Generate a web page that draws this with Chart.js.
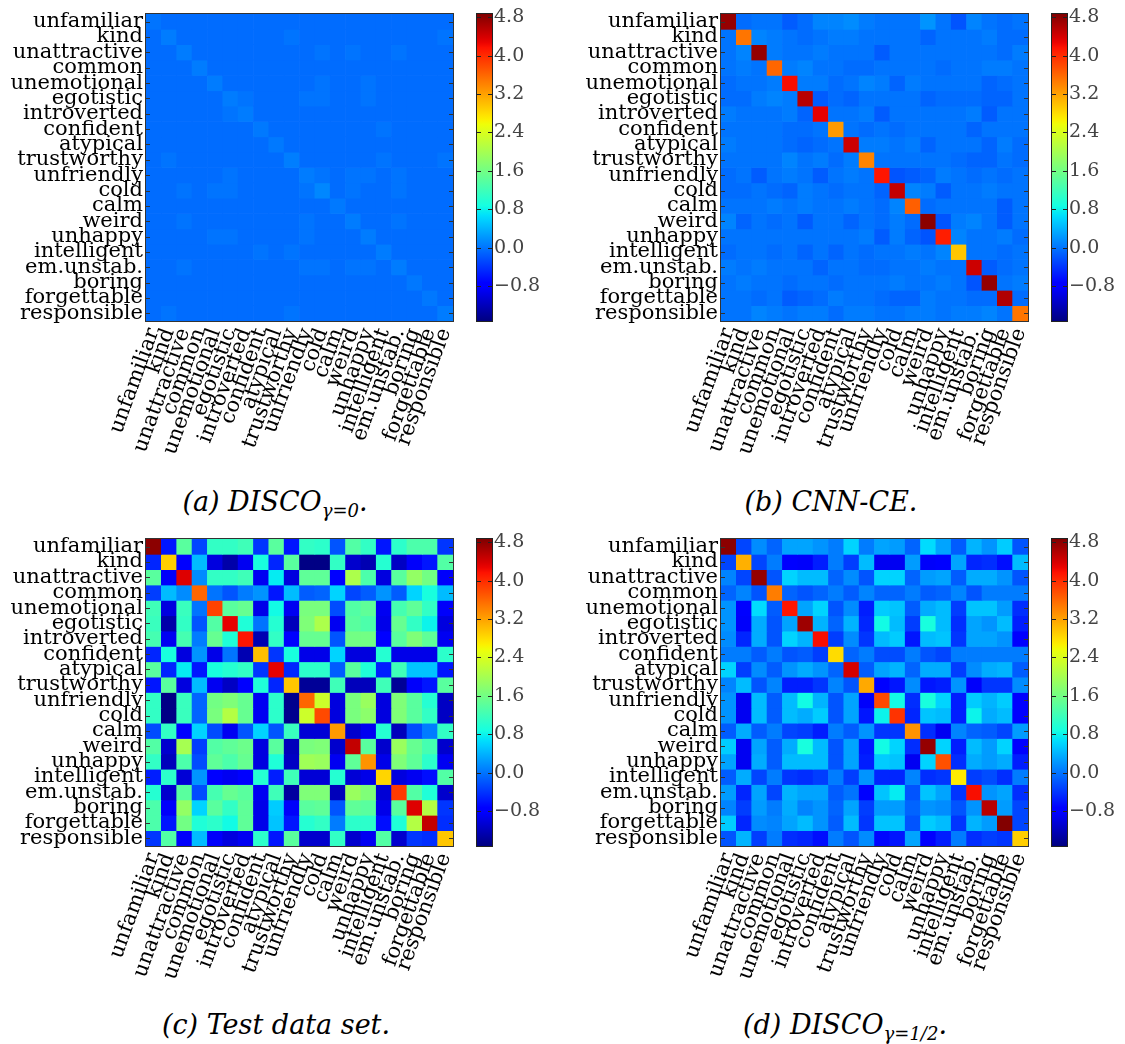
<!DOCTYPE html>
<html>
<head>
<meta charset="utf-8">
<title>Attribute correlation matrices</title>
<script src="https://cdn.jsdelivr.net/npm/chart.js@4.4.0/dist/chart.umd.min.js"></script>
<style>
    html, body { margin: 0; padding: 0; background: #fff; }
    body { width: 1125px; height: 1044px; position: relative; overflow: hidden; }
    canvas { position: absolute; }
    .cap {
        position: absolute;
        width: 400px;
        text-align: center;
        font-family: "DejaVu Serif", serif;
        font-style: italic;
        font-size: 27px;
        line-height: 27px;
        color: #000;
        white-space: nowrap;
    }
    .cap sub { font-size: 18px; line-height: 0; vertical-align: -6px; }
</style>
</head>
<body>
<canvas id="heatA" width="463" height="481" style="left:0px;top:0px"></canvas>
<canvas id="barA" width="70" height="340" style="left:470px;top:0px"></canvas>
<canvas id="heatB" width="463" height="481" style="left:575px;top:0px"></canvas>
<canvas id="barB" width="70" height="340" style="left:1045px;top:0px"></canvas>
<canvas id="heatC" width="463" height="481" style="left:0px;top:525px"></canvas>
<canvas id="barC" width="70" height="340" style="left:470px;top:525px"></canvas>
<canvas id="heatD" width="463" height="481" style="left:575px;top:525px"></canvas>
<canvas id="barD" width="70" height="340" style="left:1045px;top:525px"></canvas>

<div class="cap" style="left:75px;top:488px">(a) DISCO<sub>γ=0</sub>.</div>
<div class="cap" style="left:631px;top:488px">(b) CNN-CE.</div>
<div class="cap" style="left:76px;top:1011px">(c) Test data set.</div>
<div class="cap" style="left:645px;top:1011px">(d) DISCO<sub>γ=1/2</sub>.</div>

<script>
// Attribute names, used for both axes (rows top to bottom, columns left to right)
const attributes = [
    'unfamiliar', 'kind', 'unattractive', 'common', 'unemotional',
    'egotistic', 'introverted', 'confident', 'atypical', 'trustworthy',
    'unfriendly', 'cold', 'calm', 'weird', 'unhappy',
    'intelligent', 'em.unstab.', 'boring', 'forgettable', 'responsible'
];

// Colour bar range and tick labels
const colorMin = -1.53;
const colorMax = 4.87;
const colorTicks = [-0.8, 0.0, 0.8, 1.6, 2.4, 3.2, 4.0, 4.8];

// (a) DISCO gamma=0
const discoGamma0 = [
    [0.00, -0.05, -0.05, -0.05, -0.05, -0.05, -0.05, -0.05, -0.05, -0.05, -0.05, -0.05, -0.05, -0.05, -0.05, -0.05, -0.05, -0.05, -0.05, -0.05],
    [-0.05, 0.05, -0.05, -0.05, -0.05, -0.05, -0.05, -0.05, -0.05, 0.00, -0.05, -0.05, -0.05, -0.05, -0.05, -0.05, -0.05, -0.05, -0.05, 0.00],
    [-0.05, -0.05, 0.05, -0.05, -0.05, -0.05, -0.05, -0.05, -0.05, -0.05, -0.05, 0.00, -0.05, 0.00, -0.05, -0.05, 0.00, -0.05, -0.05, -0.05],
    [-0.05, -0.05, -0.05, 0.05, -0.05, -0.05, -0.05, -0.05, -0.05, -0.05, -0.05, -0.05, -0.05, -0.05, -0.05, -0.05, -0.05, -0.05, -0.05, -0.05],
    [-0.05, -0.05, -0.05, -0.05, 0.05, -0.05, -0.05, -0.05, -0.05, -0.05, -0.05, 0.00, -0.05, -0.05, 0.00, -0.05, -0.05, -0.05, -0.05, -0.05],
    [-0.05, -0.05, -0.05, -0.05, -0.05, 0.05, 0.00, -0.05, -0.05, -0.05, 0.00, 0.00, -0.05, -0.05, 0.00, -0.05, -0.05, -0.05, -0.05, -0.05],
    [-0.05, -0.05, -0.05, -0.05, -0.05, 0.00, 0.05, -0.05, -0.05, -0.05, -0.05, -0.05, -0.05, -0.05, -0.05, -0.05, -0.05, -0.05, -0.05, -0.05],
    [-0.05, -0.05, -0.05, -0.05, -0.05, -0.05, -0.05, 0.03, -0.05, -0.05, -0.05, -0.05, -0.05, -0.05, -0.05, 0.00, -0.05, -0.05, -0.05, -0.05],
    [-0.05, -0.05, -0.05, -0.05, -0.05, -0.05, -0.05, -0.05, 0.03, -0.05, -0.05, -0.05, -0.05, -0.05, -0.05, -0.05, -0.05, -0.05, -0.05, -0.05],
    [-0.05, 0.00, -0.05, -0.05, -0.05, -0.05, -0.05, -0.05, -0.05, 0.06, -0.05, -0.05, -0.05, -0.05, -0.05, 0.00, -0.05, -0.05, -0.05, 0.00],
    [-0.05, -0.05, -0.05, -0.05, -0.05, 0.00, -0.05, -0.05, -0.05, -0.05, 0.05, 0.00, -0.05, 0.00, 0.00, -0.05, 0.00, -0.05, -0.05, -0.05],
    [-0.05, -0.05, 0.00, -0.05, 0.00, 0.00, -0.05, -0.05, -0.05, -0.05, 0.00, 0.12, -0.05, 0.00, -0.05, -0.05, 0.00, -0.05, -0.05, -0.05],
    [-0.05, -0.05, -0.05, -0.05, -0.05, -0.05, -0.05, -0.05, -0.05, -0.05, -0.05, -0.05, 0.03, -0.05, -0.05, -0.05, -0.05, -0.05, -0.05, -0.05],
    [-0.05, -0.05, 0.00, -0.05, -0.05, -0.05, -0.05, -0.05, -0.05, -0.05, 0.00, -0.05, -0.05, 0.05, -0.05, -0.05, 0.00, -0.05, -0.05, -0.05],
    [-0.05, -0.05, -0.05, -0.05, 0.00, 0.00, -0.05, -0.05, -0.05, -0.05, 0.00, -0.05, -0.05, -0.05, 0.05, -0.05, -0.05, -0.05, -0.05, -0.05],
    [-0.05, -0.05, -0.05, -0.05, -0.05, -0.05, -0.05, 0.00, -0.05, 0.00, -0.05, -0.05, -0.05, -0.05, -0.05, 0.05, -0.05, -0.05, -0.05, -0.05],
    [-0.05, -0.05, 0.00, -0.05, -0.05, -0.05, -0.05, -0.05, -0.05, -0.05, 0.00, 0.00, -0.05, 0.00, 0.00, -0.05, 0.05, -0.05, -0.05, -0.05],
    [-0.05, -0.05, -0.05, -0.05, -0.05, -0.05, -0.05, -0.05, -0.05, -0.05, -0.05, -0.05, -0.05, -0.05, -0.05, -0.05, -0.05, 0.02, -0.05, -0.05],
    [-0.05, -0.05, -0.05, -0.05, -0.05, -0.05, -0.05, -0.05, -0.05, -0.05, -0.05, -0.05, -0.05, -0.05, -0.05, -0.05, -0.05, -0.05, 0.02, -0.05],
    [-0.05, 0.00, -0.05, -0.05, -0.05, -0.05, -0.05, -0.05, -0.05, 0.00, -0.05, -0.05, -0.05, -0.05, -0.05, -0.05, -0.05, -0.05, -0.05, 0.05]
];

// (b) CNN-CE
const cnnCE = [
    [4.75, -0.05, 0.0, 0.0, -0.15, -0.05, 0.1, 0.1, 0.15, 0.05, 0.0, 0.0, 0.0, 0.2, 0.0, -0.2, 0.1, 0.0, -0.05, 0.0],
    [0.0, 3.5, 0.1, 0.05, 0.0, -0.05, 0.0, 0.05, 0.05, 0.0, 0.0, 0.0, 0.0, -0.1, 0.0, 0.0, 0.0, 0.05, -0.05, -0.05],
    [0.0, 0.1, 4.75, 0.05, 0.0, 0.0, 0.05, 0.0, 0.0, 0.0, -0.15, 0.0, 0.0, 0.0, 0.0, 0.0, 0.0, 0.0, -0.05, 0.05],
    [0.0, 0.05, 0.0, 3.6, 0.05, 0.1, 0.0, 0.0, -0.05, -0.05, 0.0, 0.0, 0.0, 0.0, -0.05, 0.0, 0.0, 0.05, 0.05, 0.0],
    [-0.05, 0.0, 0.0, 0.05, 4.2, 0.05, 0.05, -0.05, 0.0, 0.1, 0.05, -0.1, 0.05, 0.0, 0.0, 0.0, 0.0, -0.1, -0.05, 0.0],
    [-0.05, -0.05, 0.05, 0.1, 0.05, 4.55, -0.15, -0.05, -0.1, 0.0, 0.0, 0.0, 0.0, -0.1, -0.05, -0.05, -0.05, -0.1, -0.1, 0.0],
    [0.05, 0.0, 0.0, 0.0, 0.05, -0.1, 4.3, 0.0, 0.0, 0.05, -0.15, 0.0, 0.0, 0.0, 0.0, 0.0, 0.05, -0.15, 0.0, 0.0],
    [0.0, 0.0, 0.0, 0.0, -0.05, -0.05, 0.0, 3.25, 0.0, -0.05, 0.0, -0.05, 0.0, 0.0, 0.0, 0.0, -0.1, 0.0, 0.0, 0.0],
    [0.05, 0.0, 0.0, 0.0, -0.05, -0.1, -0.05, 0.0, 4.45, 0.05, 0.05, 0.0, 0.05, -0.1, 0.0, 0.0, 0.0, -0.1, 0.05, -0.05],
    [0.0, 0.0, 0.0, 0.0, 0.1, 0.0, 0.05, -0.05, 0.05, 3.4, 0.0, 0.0, 0.0, 0.0, 0.0, -0.05, -0.1, -0.1, 0.0, -0.05],
    [-0.05, 0.0, -0.15, 0.0, 0.05, 0.0, -0.15, 0.0, 0.05, 0.0, 4.15, -0.2, -0.15, -0.1, 0.05, 0.0, -0.05, 0.0, -0.05, 0.0],
    [-0.05, -0.05, 0.0, -0.05, -0.1, 0.05, 0.0, -0.05, 0.0, 0.0, -0.1, 4.5, 0.1, 0.05, -0.15, 0.0, 0.0, 0.05, 0.0, 0.0],
    [0.0, 0.0, 0.0, 0.05, 0.0, 0.05, 0.0, 0.0, 0.05, 0.0, -0.05, 0.1, 3.65, -0.05, 0.0, 0.0, 0.0, 0.0, -0.15, 0.0],
    [0.1, -0.1, 0.0, -0.05, 0.0, -0.15, 0.0, 0.0, -0.1, 0.0, -0.05, 0.05, -0.05, 4.8, -0.2, 0.05, 0.1, 0.0, -0.15, 0.0],
    [0.0, 0.0, 0.0, 0.0, 0.0, 0.0, 0.0, 0.0, 0.0, 0.05, -0.15, 0.05, -0.1, -0.2, 4.1, 0.1, 0.0, 0.0, 0.05, -0.05],
    [-0.05, 0.0, 0.0, -0.05, 0.0, -0.1, 0.0, -0.1, 0.0, -0.05, 0.0, 0.0, 0.05, 0.0, 0.1, 2.95, 0.0, 0.0, -0.05, 0.0],
    [0.05, 0.0, 0.05, 0.0, 0.0, 0.0, -0.1, 0.0, 0.0, -0.05, -0.05, 0.0, 0.0, 0.05, 0.0, 0.0, 4.45, -0.15, -0.05, 0.0],
    [0.0, 0.05, 0.0, 0.0, -0.05, 0.0, 0.0, -0.05, 0.0, 0.0, 0.0, 0.05, 0.0, 0.0, 0.05, 0.0, -0.2, 4.75, 0.0, 0.05],
    [0.0, 0.0, -0.05, 0.0, -0.15, -0.1, -0.05, 0.05, 0.0, 0.0, -0.05, -0.1, -0.1, 0.05, 0.0, 0.0, -0.05, -0.05, 4.6, -0.05],
    [0.0, 0.0, 0.1, 0.05, 0.0, 0.05, 0.05, -0.05, 0.05, 0.05, 0.0, 0.0, 0.05, 0.05, 0.0, 0.05, 0.05, 0.1, 0.0, 3.5]
];

// (c) Test data set
const testData = [
    [4.8, -0.6, 1.4, -0.3, 1.1, 1.1, 1.2, -0.4, 1.4, -0.6, 1.1, 1.05, -0.2, 1.35, 1.1, -0.6, 1.05, 1.3, 1.3, -0.4],
    [-0.5, 2.9, -0.8, 0.45, -1.0, -1.3, -0.9, 0.9, -0.5, 1.4, -1.5, -1.5, 1.1, -1.1, -1.25, 1.0, -1.15, -0.85, -0.6, 1.35],
    [1.4, -0.85, 4.35, 0.15, 1.1, 1.1, 1.2, -0.9, 0.75, -1.0, 1.45, 1.45, -0.8, 2.05, 1.3, -1.0, 1.4, 1.85, 1.6, -0.85],
    [-0.35, 0.45, 0.15, 3.6, 0.0, -0.2, 0.05, 0.2, -0.6, 0.45, -0.15, -0.1, 0.6, -0.3, -0.15, 0.2, -0.15, 0.6, 0.9, 0.45],
    [1.2, -1.0, 1.15, 0.0, 3.85, 1.4, 1.5, -0.95, 0.85, -0.9, 1.65, 1.65, -0.25, 1.35, 1.45, -0.9, 1.25, 1.45, 1.1, -0.85],
    [1.15, -1.3, 1.1, -0.2, 1.35, 4.3, 0.95, 0.0, 1.0, -1.2, 1.7, 2.05, -0.9, 1.4, 1.3, -0.95, 1.5, 1.1, 0.8, -1.0],
    [1.25, -0.9, 1.25, 0.05, 1.5, 0.95, 4.15, -1.25, 1.1, -0.8, 1.5, 1.5, -0.2, 1.6, 1.6, -0.8, 1.4, 1.7, 1.45, -0.9],
    [-0.5, 0.9, -1.0, 0.2, -0.95, 0.0, -1.25, 3.0, -0.4, 0.9, -0.95, -0.95, 0.6, -1.0, -1.0, 1.0, -0.95, -0.95, -0.95, 1.05],
    [1.4, -0.5, 0.75, -0.6, 0.9, 1.0, 1.1, -0.4, 4.3, -0.5, 1.05, 1.05, -0.15, 1.4, 0.95, -0.55, 1.2, 0.5, 0.5, -0.6],
    [-0.6, 1.4, -1.0, 0.45, -0.9, -1.15, -0.8, 0.95, -0.5, 2.95, -1.4, -1.4, 1.2, -1.2, -1.2, 1.2, -1.4, -0.85, -0.6, 1.4],
    [1.1, -1.5, 1.15, -0.1, 1.6, 1.7, 1.5, -0.9, 1.05, -1.45, 3.6, 2.3, -1.0, 1.65, 1.9, -1.0, 1.7, 1.4, 1.0, -1.15],
    [1.1, -1.5, 1.15, -0.1, 1.65, 2.1, 1.5, -0.9, 1.05, -1.45, 2.3, 3.8, -1.0, 1.65, 1.8, -1.0, 1.7, 1.4, 1.1, -1.15],
    [-0.25, 1.1, -0.8, 0.6, -0.25, -0.9, -0.2, 0.6, -0.2, 1.15, -1.05, -1.05, 3.25, -1.1, -0.9, 1.0, -1.2, -0.25, 0.05, 1.1],
    [1.35, -1.1, 2.0, -0.35, 1.35, 1.45, 1.55, -1.0, 1.4, -1.2, 1.65, 1.7, -1.1, 4.5, 1.4, -1.1, 1.9, 1.5, 1.25, -1.1],
    [1.1, -1.2, 1.3, -0.25, 1.45, 1.3, 1.5, -1.0, 0.95, -1.15, 1.95, 1.9, -0.9, 1.45, 3.3, -0.95, 1.7, 1.45, 1.05, -0.9],
    [-0.55, 1.05, -1.05, 0.2, -0.8, -0.9, -0.75, 1.0, -0.55, 1.2, -1.05, -1.05, 1.0, -1.05, -0.95, 2.85, -1.0, -0.9, -0.65, 1.35],
    [1.0, -1.1, 1.4, -0.25, 1.25, 1.5, 1.4, -0.9, 1.2, -1.35, 1.7, 1.7, -1.2, 1.9, 1.7, -1.05, 3.9, 1.35, 0.95, -1.1],
    [1.3, -0.85, 1.85, 0.6, 1.4, 1.1, 1.45, -0.95, 0.55, -0.85, 1.4, 1.45, -0.2, 1.45, 1.4, -0.95, 1.4, 4.35, 2.1, -0.4],
    [1.3, -0.6, 1.6, 0.95, 1.05, 0.85, 1.45, -0.95, 0.5, -0.6, 1.0, 1.1, 0.05, 1.05, 1.05, -0.65, 0.95, 2.1, 4.5, -0.45],
    [-0.4, 1.35, -0.85, 0.45, -0.85, -1.0, -0.9, 1.05, -0.6, 1.4, -1.1, -1.1, 1.1, -1.1, -0.9, 1.35, -1.1, -0.4, -0.45, 2.95]
];

// (d) DISCO gamma=1/2
const discoGammaHalf = [
    [4.8, -0.3, 0.15, -0.1, 0.3, 0.3, 0.2, 0.05, 0.6, 0.05, 0.3, 0.25, -0.1, 0.65, 0.3, -0.15, 0.4, 0.2, 0.55, -0.2],
    [-0.3, 3.1, -0.3, 0.05, -0.8, -0.85, -0.55, 0.05, -0.35, 0.45, -0.9, -0.9, 0.25, -0.85, -0.8, 0.3, -0.5, -0.45, -0.65, 0.45],
    [0.1, -0.3, 4.75, -0.2, 0.6, 0.45, 0.45, -0.1, 0.15, -0.2, 0.6, 0.6, -0.1, 0.25, 0.3, -0.15, 0.35, 0.35, 0.2, -0.2],
    [-0.1, 0.1, -0.2, 3.45, -0.1, -0.2, -0.1, 0.05, -0.15, 0.1, -0.1, -0.1, 0.05, -0.15, -0.1, 0.1, -0.2, 0.05, 0.05, 0.05],
    [0.2, -0.8, 0.65, -0.15, 4.15, 0.3, 0.6, -0.2, 0.15, -0.55, 0.55, 0.5, -0.15, 0.35, 0.45, -0.35, 0.5, 0.5, 0.25, -0.45],
    [0.2, -0.85, 0.35, -0.2, 0.3, 4.7, 0.4, -0.1, 0.4, -0.5, 0.85, 0.45, -0.35, 0.9, 0.45, -0.45, 0.3, 0.2, 0.45, -0.55],
    [0.15, -0.5, 0.35, -0.2, 0.6, 0.4, 4.2, -0.35, 0.15, -0.4, 0.45, 0.55, -0.6, 0.45, 0.5, -0.4, 0.3, 0.3, 0.2, -0.75],
    [0.05, 0.05, -0.15, 0.05, -0.2, -0.15, -0.35, 2.8, -0.1, 0.05, -0.25, -0.25, 0.05, -0.2, -0.3, 0.05, 0.05, 0.05, 0.05, 0.05],
    [0.6, -0.35, 0.15, -0.15, 0.2, 0.35, 0.2, -0.1, 4.4, -0.15, 0.3, 0.4, -0.1, 0.35, 0.35, -0.35, 0.15, 0.35, 0.4, -0.15],
    [0.1, 0.45, -0.2, 0.1, -0.55, -0.55, -0.4, 0.1, -0.2, 3.15, -0.8, -0.6, 0.15, -0.6, -0.55, 0.2, -0.85, -0.4, -0.4, 0.15],
    [0.2, -0.9, 0.45, -0.15, 0.45, 0.85, 0.4, -0.2, 0.3, -0.85, 3.8, 0.85, -0.45, 0.9, 0.6, -0.55, 0.55, 0.4, 0.55, -0.8],
    [0.2, -0.9, 0.45, -0.15, 0.45, 0.35, 0.55, -0.2, 0.3, -0.6, 0.8, 3.95, -0.5, 0.5, 0.45, -0.55, 0.8, 0.35, 0.45, -0.8],
    [-0.15, 0.35, -0.15, 0.05, -0.3, -0.35, -0.55, 0.05, -0.15, 0.2, -0.4, -0.4, 3.3, -0.45, -0.9, 0.1, -0.1, -0.15, -0.3, 0.25],
    [0.55, -0.9, 0.3, -0.15, 0.35, 0.9, 0.45, -0.2, 0.3, -0.6, 0.85, 0.6, -0.45, 4.75, 0.6, -0.55, 0.45, 0.25, 0.6, -0.75],
    [0.3, -0.9, 0.35, -0.15, 0.45, 0.45, 0.45, -0.2, 0.3, -0.55, 0.55, 0.5, -0.9, 0.6, 3.75, -0.45, 0.35, 0.25, 0.35, -0.55],
    [-0.15, 0.35, -0.3, 0.05, -0.4, -0.45, -0.35, 0.05, -0.35, 0.2, -0.5, -0.5, 0.1, -0.45, -0.4, 2.7, -0.35, -0.25, -0.45, 0.05],
    [0.25, -0.5, 0.3, -0.3, 0.4, 0.3, 0.3, -0.15, 0.0, -0.8, 0.5, 0.75, -0.2, 0.5, 0.3, -0.4, 4.2, 0.2, 0.3, -0.45],
    [0.1, -0.35, 0.25, 0.05, 0.35, 0.1, 0.2, -0.1, 0.3, -0.35, 0.25, 0.25, -0.1, 0.2, 0.15, -0.2, 0.2, 4.55, 0.25, -0.3],
    [0.55, -0.5, 0.15, 0.1, 0.3, 0.45, 0.2, -0.15, 0.45, -0.4, 0.5, 0.5, -0.2, 0.55, 0.45, -0.4, 0.4, 0.25, 4.85, -0.3],
    [-0.2, 0.4, -0.35, 0.05, -0.45, -0.5, -0.65, 0.05, -0.2, 0.15, -0.7, -0.6, 0.3, -0.75, -0.55, 0.05, -0.45, -0.35, -0.4, 2.9]
];

// Shared text style (serif labels, like the LaTeX figure)
const serif = "'DejaVu Serif', 'Liberation Serif', serif";
Chart.defaults.font.family = serif;
Chart.defaults.color = '#000';

/**
 * Matplotlib "jet" colour map
 * @param {number} t - position in [0, 1]
 */
function jet(t) {
    t = Math.min(1, Math.max(0, t));
    const seg = (pts) => {
        for (let i = 1; i < pts.length; i++) {
            if (t <= pts[i][0]) {
                const [x0, y0] = pts[i - 1];
                const [x1, y1] = pts[i];
                return y0 + (y1 - y0) * (t - x0) / (x1 - x0);
            }
        }
        return pts[pts.length - 1][1];
    };
    const r = seg([[0, 0], [0.35, 0], [0.66, 1], [0.89, 1], [1, 0.5]]);
    const g = seg([[0, 0], [0.125, 0], [0.375, 1], [0.64, 1], [0.91, 0], [1, 0]]);
    const b = seg([[0, 0.5], [0.11, 1], [0.34, 1], [0.65, 0], [1, 0]]);
    return `rgb(${Math.round(r * 255)}, ${Math.round(g * 255)}, ${Math.round(b * 255)})`;
}

function valueColor(v) {
    return jet((v - colorMin) / (colorMax - colorMin));
}

/**
 * Frame around the plot area plus small inward tick marks (matplotlib look)
 */
const framePlugin = {
    id: 'frame',
    afterDraw(chart, args, opts) {
        const { ctx, chartArea: a } = chart;
        ctx.save();
        ctx.strokeStyle = opts.color || '#333';
        ctx.lineWidth = 1;
        ctx.strokeRect(a.left - 0.5, a.top - 0.5, a.right - a.left + 1, a.bottom - a.top + 1);
        const ys = chart.scales.y;
        (opts.ticks || []).forEach(v => {
            const y = Math.round(ys.getPixelForValue(v)) + 0.5;
            ctx.beginPath();
            ctx.moveTo(a.left, y);
            ctx.lineTo(a.left + 4, y);
            ctx.moveTo(a.right - 4, y);
            ctx.lineTo(a.right, y);
            ctx.stroke();
        });
        ctx.restore();
    }
};

/**
 * Heat map built from floating bars: one dataset per row
 */
function makeHeatmap(canvasId, matrix) {
    const rowIndex = attributes.map((_, i) => i);
    const datasets = matrix.map((row, r) => ({
        data: row.map(() => [r - 0.5, r + 0.5]),
        backgroundColor: row.map(valueColor),
        borderWidth: 0,
        grouped: false,
        barPercentage: 1,
        categoryPercentage: 1
    }));

    return new Chart(document.getElementById(canvasId), {
        type: 'bar',
        data: { labels: attributes, datasets },
        options: {
            responsive: false,
            animation: false,
            devicePixelRatio: 1,
            layout: { padding: { left: 0, top: 14, right: 10, bottom: 0 } },
            plugins: {
                legend: { display: false },
                tooltip: { enabled: false },
                frame: { ticks: rowIndex, color: '#333' }
            },
            scales: {
                x: {
                    grid: { display: false, drawTicks: false },
                    border: { display: false },
                    ticks: {
                        autoSkip: false,
                        minRotation: 70,
                        maxRotation: 70,
                        padding: 4,
                        color: '#000',
                        font: { size: 21 }
                    },
                    afterFit: s => { s.height = 160; s.paddingLeft = 0; s.paddingRight = 0; }
                },
                y: {
                    type: 'linear',
                    reverse: true,
                    min: -0.5,
                    max: 19.5,
                    grid: { display: false, drawTicks: false },
                    border: { display: false },
                    afterBuildTicks: s => { s.ticks = rowIndex.map(v => ({ value: v })); },
                    ticks: {
                        autoSkip: false,
                        padding: 3,
                        color: '#000',
                        font: { size: 21 },
                        callback: v => attributes[v]
                    },
                    afterFit: s => { s.width = 146; s.paddingTop = 0; s.paddingBottom = 0; }
                }
            }
        },
        plugins: [framePlugin]
    });
}

/**
 * Colour bar: one floating bar spanning the full range, filled with the jet gradient
 */
function makeColorbar(canvasId) {
    return new Chart(document.getElementById(canvasId), {
        type: 'bar',
        data: {
            labels: [''],
            datasets: [{
                data: [[colorMin, colorMax]],
                backgroundColor: (c) => {
                    const a = c.chart.chartArea;
                    if (!a) return '#00f';
                    const g = c.chart.ctx.createLinearGradient(0, a.bottom, 0, a.top);
                    for (let i = 0; i <= 64; i++) g.addColorStop(i / 64, jet(i / 64));
                    return g;
                },
                borderWidth: 0,
                barPercentage: 1,
                categoryPercentage: 1
            }]
        },
        options: {
            responsive: false,
            animation: false,
            devicePixelRatio: 1,
            layout: { padding: { left: 7, top: 14, right: 0, bottom: 19 } },
            plugins: {
                legend: { display: false },
                tooltip: { enabled: false },
                frame: { ticks: colorTicks, color: '#222' }
            },
            scales: {
                x: { display: false },
                y: {
                    position: 'right',
                    min: colorMin,
                    max: colorMax,
                    grid: { display: false, drawTicks: false },
                    border: { display: false },
                    afterBuildTicks: s => { s.ticks = colorTicks.map(v => ({ value: v })); },
                    ticks: {
                        padding: 2,
                        color: '#444',
                        font: { size: 19 },
                        callback: v => (v < 0 ? '\u2212' : '') + Math.abs(v).toFixed(1)
                    },
                    afterFit: s => { s.width = 48; s.paddingTop = 0; s.paddingBottom = 0; }
                }
            }
        },
        plugins: [framePlugin]
    });
}

makeHeatmap('heatA', discoGamma0);
makeColorbar('barA');
makeHeatmap('heatB', cnnCE);
makeColorbar('barB');
makeHeatmap('heatC', testData);
makeColorbar('barC');
makeHeatmap('heatD', discoGammaHalf);
makeColorbar('barD');
</script>
</body>
</html>
